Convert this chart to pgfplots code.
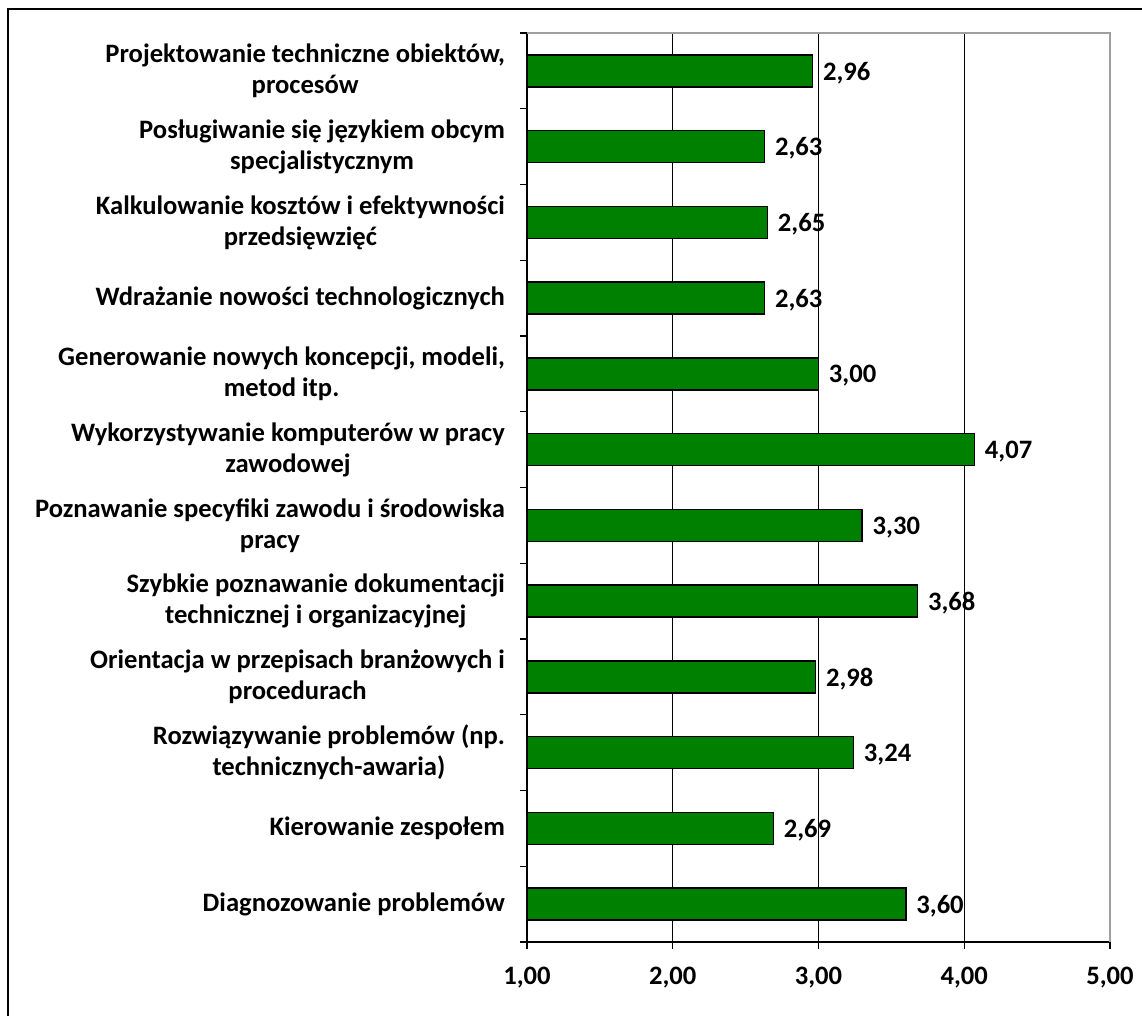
\documentclass[border=0pt]{standalone}
\usepackage{fontspec}
\setmainfont{Carlito}
\usepackage{pgfplots}
\pgfplotsset{compat=1.18}
\definecolor{bargreen}{RGB}{0,128,0}
\begin{document}
\begin{tikzpicture}[x=1pt,y=1pt]
\useasboundingbox (0,0) rectangle (571,508);
% outer frame (top and left edges only visible)
\draw[line width=1pt] (4,0) -- (4,503.5) -- (571,503.5);
\begin{axis}[
  at={(263.5pt,37pt)}, anchor=south west,
  scale only axis, width=291.5pt, height=454.5pt,
  xmin=1, xmax=5, ymin=0.5, ymax=12.5,
  xbar, bar width=16pt,
  axis lines*=left,
  axis line style={black, line width=0.6pt},
  xtick={1,2,3,4,5},
  ytick={0.5,1.5,...,12.5},
  yticklabels={},
  extra y ticks={1,...,12},
  extra y tick labels={
    Diagnozowanie problemów,
    Kierowanie zespołem,
    {Rozwiązywanie problemów (np.\\technicznych-awaria)},
    {Orientacja w przepisach branżowych i\\procedurach},
    {Szybkie poznawanie dokumentacji\\technicznej i organizacyjnej},
    {Poznawanie specyfiki zawodu i środowiska\\pracy},
    {Wykorzystywanie komputerów w pracy\\zawodowej},
    {Generowanie nowych koncepcji, modeli,\\metod itp.},
    Wdrażanie nowości technologicznych,
    {Kalkulowanie kosztów i efektywności\\przedsięwzięć},
    {Posługiwanie się językiem obcym\\specjalistycznym},
    {Projektowanie techniczne obiektów,\\procesów}},
  extra y tick style={tick style={draw=none}},
  tick align=outside,
  major tick length=3.5pt,
  tick style={black, line width=0.6pt},
  xmajorgrids,
  grid style={black, line width=0.5pt},
  yticklabel style={font=\fontsize{13.3}{15.5}\selectfont\bfseries, align=center, xshift=-4pt},
  xticklabel style={font=\fontsize{13.3}{15}\selectfont\bfseries, yshift=-5.5pt},
  /pgf/number format/.cd, use comma, fixed, fixed zerofill, precision=2, assume math mode=true,
  /pgfplots/.cd,
  nodes near coords,
  nodes near coords style={font=\fontsize{13.3}{15}\selectfont\bfseries, anchor=west, xshift=1.5pt, yshift=-1pt},
]
\addplot[fill=bargreen, draw=black, line width=0.8pt] coordinates {
  (3.60,1) (2.69,2) (3.24,3) (2.98,4) (3.68,5) (3.30,6)
  (4.07,7) (3.00,8) (2.63,9) (2.65,10) (2.63,11) (2.96,12)
};
\end{axis}
% grey plot-area border (top and right)
\draw[gray!75, line width=1pt] (263.5,491.5) -- (555,491.5) -- (555,37);
\end{tikzpicture}
\end{document}
